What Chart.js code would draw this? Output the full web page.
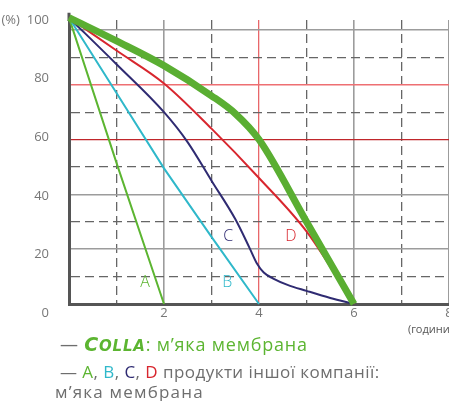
<!DOCTYPE html>
<html>
<head>
<meta charset="utf-8">
<script src="https://cdn.jsdelivr.net/npm/chart.js@4.4.1/dist/chart.umd.min.js"></script>
<style>
html,body{margin:0;padding:0;background:#fff;overflow:hidden;width:449px;height:401px;}
#wrap{position:relative;width:449px;height:401px;overflow:hidden;font-family:"Open Sans",sans-serif;}
#c{position:absolute;left:0;top:0;}
.lg{position:absolute;white-space:nowrap;color:#6e6e6e;line-height:20px;}
.l1{left:60px;top:334px;font-size:18px;letter-spacing:0.8px;}
.l2{left:60px;top:362px;font-size:17px;letter-spacing:0.45px;}
.l3{left:55px;top:382px;font-size:17px;letter-spacing:1.2px;}
.logo{color:#5cb531;font-family:"DejaVu Sans",sans-serif;font-weight:bold;font-style:italic;letter-spacing:0.8px;font-size:19px;}
.logo small{font-size:15px;}
.gA{color:#5cb531}.cB{color:#2fb8ca}.nC{color:#2f2b72}.rD{color:#d8262e}
</style>
</head>
<body>
<div id="wrap">
<canvas id="c" width="460" height="340"></canvas>
<div class="lg l1">— <span class="logo">C<small>OLLA</small></span><span class="gA">: м’яка мембрана</span></div>
<div class="lg l2">— <span class="gA">A</span>, <span class="cB">B</span>, <span class="nC">C</span>, <span class="rD">D</span> продукти іншої компанії:</div>
<div class="lg l3">м’яка мембрана</div>
</div>
<script>
// ---- data (hours -> % remaining) ----
const collaX = [0, 1, 2, 3, 3.5, 4, 5, 6];
const collaY = [104.5, 96, 87, 76, 69.5, 60, 30, 0];
const aX = [0, 1, 2];
const aY = [104.5, 51.5, 0];
const bX = [0, 1, 2, 3, 4];
const bY = [104.5, 77, 49.5, 24.5, 0];
const cX = [0, 1, 2, 2.5, 3, 3.5, 3.8, 3.95, 4.1, 4.3, 4.6, 5, 5.5, 6];
const cY = [104.5, 87.5, 70, 59, 45, 31, 20.5, 15, 11.5, 9.3, 7, 4.8, 2.2, 0];
const dX = [0, 1, 2, 3, 4, 5, 6];
const dY = [104.5, 92.5, 80.5, 64, 46, 26.5, 0];

const xGridValues = [0, 1, 2, 3, 4, 5, 6, 7, 8];
const xTickLabels = ['', '', '2', '', '4', '', '6', '', '8'];
const yGridValues = [0, 10, 20, 30, 40, 50, 60, 70, 80, 90, 100];
const yLabelValues = [0, 20, 40, 60, 80, 100];
const yTickLabels = ['0', '20', '40', '60', '80', '(%)  100'];
const xTitle = '(години)';

const seriesNames = ['A', 'B', 'C', 'D'];
const seriesLabelX = [1.6, 3.33, 3.35, 4.67];
const seriesLabelY = [7.7, 7.7, 24.8, 24.8];
const seriesColors = ['#5cb531', '#2fb8ca', '#2f2b72', '#d8262e'];

const pts = (xs, ys) => xs.map((x, i) => ({x: x, y: ys[i]}));

Chart.defaults.font.family = "'Open Sans', sans-serif";

function yGridColor(ctx) {
  if (!ctx.tick) return 'rgba(0,0,0,0)';
  const v = ctx.tick.value;
  if (v === 0) return 'rgba(0,0,0,0)';
  if (v % 20 === 10) return '#666';
  if (v === 60) return '#c0262b';
  if (v === 80) return '#ee6f72';
  return '#9c9c9c';
}
function yGridWidth(ctx) {
  if (!ctx.tick) return 1;
  const v = ctx.tick.value;
  if (v % 20 === 10) return 1.3;
  if (v === 60) return 1.3;
  return 1.6;
}
function xGridColor(ctx) {
  if (!ctx.tick) return 'rgba(0,0,0,0)';
  const v = ctx.tick.value;
  if (v === 0) return 'rgba(0,0,0,0)';
  if (v % 2 === 1) return '#666';
  if (v === 4) return '#e8676a';
  return '#9c9c9c';
}
function xGridWidth(ctx) {
  if (!ctx.tick) return 1;
  const v = ctx.tick.value;
  if (v % 2 === 1) return 1.3;
  if (v === 4) return 1.3;
  return 1.6;
}
const dashFor = (ctx) => (ctx.tick && ctx.tick.value % 2 === 1) ? [9, 5] : [];
const dashForY = (ctx) => (ctx.tick && ctx.tick.value % 20 === 10) ? [9, 5] : [];

const extrasPlugin = {
  id: 'extras',
  beforeDatasetsDraw(chart) {
    const {ctx, chartArea, scales} = chart;
    ctx.save();
    ctx.strokeStyle = '#555';
    ctx.lineWidth = 3;
    ctx.beginPath();
    ctx.moveTo(chartArea.left, chartArea.top + 1);
    ctx.lineTo(chartArea.left, scales.y.getPixelForValue(106.3));
    ctx.stroke();
    ctx.restore();
  },
  afterDatasetsDraw(chart) {
    const {ctx, scales} = chart;
    ctx.save();
    ctx.font = "300 16px 'Open Sans', sans-serif";
    ctx.textAlign = 'center';
    ctx.textBaseline = 'middle';
    seriesNames.forEach((n, i) => {
      ctx.fillStyle = seriesColors[i];
      ctx.fillText(n, scales.x.getPixelForValue(seriesLabelX[i]), scales.y.getPixelForValue(seriesLabelY[i]));
    });
    ctx.restore();
  }
};

const thin = {pointRadius: 0, borderWidth: 2, fill: false, clip: false};

new Chart(document.getElementById('c'), {
  type: 'line',
  data: {
    datasets: [
      {label: 'COLLA', data: pts(collaX, collaY), borderColor: '#5aae32', borderWidth: 7, pointRadius: 0, fill: false, clip: false, cubicInterpolationMode: 'monotone', borderJoinStyle: 'round'},
      Object.assign({label: 'D', data: pts(dX, dY), borderColor: '#d8262e', cubicInterpolationMode: 'monotone'}, thin),
      Object.assign({label: 'C', data: pts(cX, cY), borderColor: '#2f2b72', cubicInterpolationMode: 'monotone'}, thin),
      Object.assign({label: 'B', data: pts(bX, bY), borderColor: '#2fb8ca'}, thin),
      Object.assign({label: 'A', data: pts(aX, aY), borderColor: '#5cb531'}, thin)
    ]
  },
  options: {
    responsive: false,
    animation: false,
    devicePixelRatio: 1,
    layout: {padding: {top: 20, right: 7, bottom: 0, left: 0}},
    plugins: {legend: {display: false}, tooltip: {enabled: false}},
    scales: {
      x: {
        type: 'linear', min: 0, max: 8.084,
        afterBuildTicks: s => { s.ticks = xGridValues.map(v => ({value: v})); },
        afterFit: s => { s.height = 36; },
        ticks: {autoSkip: false, maxRotation: 0, padding: 1, color: '#777', font: {size: 13},
          callback: (v) => { const i = xGridValues.indexOf(v); return i >= 0 ? xTickLabels[i] : ''; }},
        grid: {drawTicks: false, color: xGridColor, lineWidth: xGridWidth},
        border: {display: true, color: '#555', width: 3, dash: dashFor},
        title: {display: true, text: xTitle, align: 'end', color: '#555', font: {size: 11}, padding: {top: 0, bottom: 4}}
      },
      y: {
        type: 'linear', min: 0, max: 103.65, position: 'left', weight: 0,
        afterBuildTicks: s => { s.ticks = yGridValues.map(v => ({value: v})); },
        afterFit: s => { s.width = 0; },
        ticks: {display: false},
        grid: {drawTicks: false, color: yGridColor, lineWidth: yGridWidth},
        border: {display: true, color: '#555', width: 3, dash: dashForY}
      },
      yl: {
        type: 'linear', min: 3.07, max: 100, position: 'left', weight: 1,
        afterBuildTicks: s => { s.ticks = yLabelValues.map(v => ({value: v})); },
        afterFit: s => { s.width = 69; },
        ticks: {autoSkip: false, padding: 12, color: '#777', font: {size: 13},
          callback: (v) => { const i = yLabelValues.indexOf(v); return i >= 0 ? yTickLabels[i] : ''; }},
        grid: {display: false},
        border: {display: false}
      }
    }
  },
  plugins: [extrasPlugin]
});
</script>
</body>
</html>
